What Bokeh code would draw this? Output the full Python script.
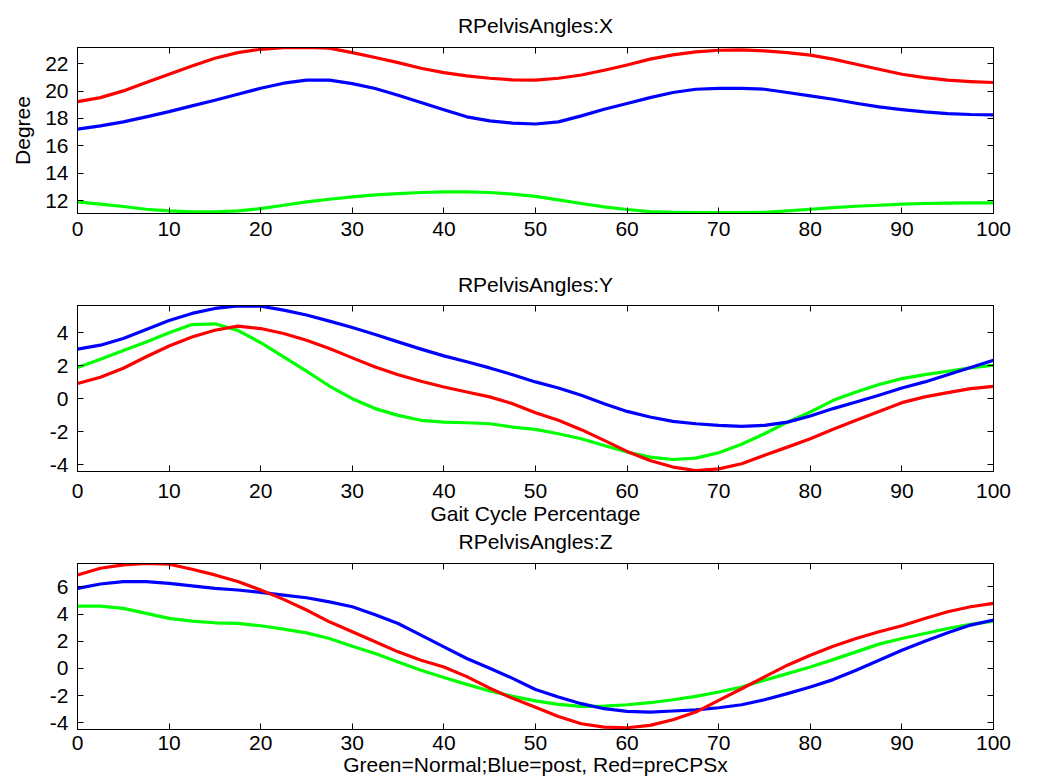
from bokeh.plotting import figure
from bokeh.layouts import column
from bokeh.models import Range1d, FixedTicker, LinearAxis, Title
from bokeh.embed import file_html
from bokeh.resources import INLINE

FONT = "Liberation Sans"

# Gait cycle percentage samples (read every 2.5 %)
gait_pct = [0, 2.5, 5, 7.5, 10, 12.5, 15, 17.5, 20, 22.5, 25, 27.5, 30, 32.5, 35, 37.5,
            40, 42.5, 45, 47.5, 50, 52.5, 55, 57.5, 60, 62.5, 65, 67.5, 70, 72.5, 75,
            77.5, 80, 82.5, 85, 87.5, 90, 92.5, 95, 97.5, 100]
x_ticks = [0, 10, 20, 30, 40, 50, 60, 70, 80, 90, 100]

# RPelvisAngles:X
x_red = [19.23, 19.52, 20.01, 20.62, 21.22, 21.83, 22.39, 22.8, 23.04, 23.15, 23.17,
         23.12, 22.8, 22.44, 22.07, 21.66, 21.34, 21.1, 20.93, 20.81, 20.79, 20.93,
         21.17, 21.51, 21.9, 22.32, 22.63, 22.85, 22.97, 22.99, 22.92, 22.8, 22.61,
         22.32, 21.95, 21.59, 21.22, 20.98, 20.79, 20.69, 20.62]
x_blue = [17.22, 17.46, 17.75, 18.12, 18.5, 18.92, 19.33, 19.77, 20.2, 20.57, 20.79,
          20.79, 20.54, 20.18, 19.69, 19.16, 18.63, 18.12, 17.83, 17.66, 17.6, 17.75,
          18.19, 18.67, 19.09, 19.52, 19.89, 20.13, 20.2, 20.2, 20.13, 19.89, 19.65,
          19.4, 19.11, 18.84, 18.65, 18.48, 18.36, 18.29, 18.26]
x_green = [11.93, 11.76, 11.59, 11.39, 11.27, 11.2, 11.2, 11.27, 11.44, 11.68, 11.93,
           12.12, 12.29, 12.44, 12.53, 12.61, 12.66, 12.66, 12.61, 12.49, 12.33, 12.07,
           11.81, 11.56, 11.37, 11.22, 11.17, 11.15, 11.15, 11.15, 11.17, 11.27, 11.39,
           11.51, 11.61, 11.68, 11.76, 11.81, 11.83, 11.85, 11.85]
x_yticks = [12, 14, 16, 18, 20, 22]

# RPelvisAngles:Y
y_red = [0.92, 1.3, 1.85, 2.55, 3.2, 3.75, 4.16, 4.41, 4.26, 3.96, 3.55, 3.05, 2.48,
         1.93, 1.46, 1.06, 0.71, 0.41, 0.11, -0.3, -0.85, -1.31, -1.88, -2.53, -3.2,
         -3.75, -4.15, -4.36, -4.26, -3.95, -3.44, -2.94, -2.43, -1.86, -1.31, -0.77,
         -0.24, 0.11, 0.37, 0.61, 0.75]
y_blue = [3.01, 3.25, 3.66, 4.2, 4.75, 5.18, 5.48, 5.64, 5.62, 5.38, 5.08, 4.71, 4.32,
          3.9, 3.45, 3.01, 2.6, 2.24, 1.87, 1.46, 1.02, 0.65, 0.21, -0.3, -0.77, -1.11,
          -1.38, -1.52, -1.62, -1.68, -1.62, -1.42, -1.05, -0.6, -0.2, 0.21, 0.65, 1.02,
          1.46, 1.89, 2.34]
y_green = [1.89, 2.4, 2.92, 3.45, 4.0, 4.5, 4.55, 4.15, 3.4, 2.54, 1.67, 0.77, 0.0,
           -0.6, -1.01, -1.31, -1.42, -1.46, -1.52, -1.72, -1.86, -2.13, -2.43, -2.84,
           -3.24, -3.55, -3.69, -3.61, -3.28, -2.77, -2.13, -1.42, -0.81, -0.1, 0.41,
           0.86, 1.22, 1.46, 1.67, 1.87, 2.03]
y_yticks = [-4, -2, 0, 2, 4]

# RPelvisAngles:Z
z_red = [6.88, 7.37, 7.62, 7.72, 7.67, 7.3, 6.88, 6.39, 5.77, 5.08, 4.3, 3.43, 2.7,
         1.96, 1.22, 0.61, 0.11, -0.6, -1.45, -2.2, -2.85, -3.53, -4.07, -4.31, -4.36,
         -4.19, -3.77, -3.21, -2.35, -1.49, -0.62, 0.24, 0.97, 1.64, 2.2, 2.7, 3.14,
         3.68, 4.17, 4.54, 4.79]
z_blue = [5.89, 6.21, 6.39, 6.39, 6.26, 6.07, 5.89, 5.77, 5.6, 5.4, 5.2, 4.9, 4.54,
          3.95, 3.31, 2.45, 1.59, 0.73, 0.01, -0.73, -1.55, -2.1, -2.59, -2.96, -3.16,
          -3.21, -3.13, -3.04, -2.89, -2.67, -2.3, -1.85, -1.36, -0.82, -0.13, 0.61,
          1.34, 2.0, 2.62, 3.19, 3.56]
z_green = [4.59, 4.59, 4.42, 4.05, 3.68, 3.48, 3.36, 3.31, 3.14, 2.89, 2.62, 2.2, 1.64,
           1.1, 0.48, -0.13, -0.67, -1.17, -1.66, -2.05, -2.38, -2.64, -2.79, -2.77,
           -2.67, -2.52, -2.3, -2.05, -1.73, -1.36, -0.87, -0.38, 0.11, 0.65, 1.22,
           1.79, 2.2, 2.57, 2.94, 3.24, 3.48]
z_yticks = [-4, -2, 0, 2, 4, 6]

RED, BLUE, GREEN = "#ff0000", "#0000ff", "#00ff00"


def style_title(t, standoff):
    t.align = "center"
    t.text_font = FONT
    t.text_font_size = "21px"
    t.text_font_style = "normal"
    t.text_color = "black"
    t.standoff = standoff


def make_panel(title, yrange, yticks, series, height, b_top, b_bottom,
               xlabel=None, ylabel=None, x_standoff=8, xl_standoff=1, t_standoff=20):
    p = figure(width=1030, height=height, output_backend="svg", toolbar_location=None,
               x_range=Range1d(0, 100), y_range=Range1d(*yrange),
               min_border_left=77, min_border_right=37,
               min_border_top=b_top, min_border_bottom=b_bottom)
    if title:
        p.title.text = title
        style_title(p.title, t_standoff)
    p.grid.visible = False
    p.outline_line_color = "black"
    p.outline_line_width = 1
    p.background_fill_color = "white"
    p.border_fill_color = "white"

    for ax in (p.xaxis[0], p.yaxis[0]):
        ax.major_tick_in = 6
        ax.major_tick_out = 0
        ax.minor_tick_line_color = None
        ax.axis_line_color = "black"
        ax.major_tick_line_color = "black"
        ax.major_label_text_font = FONT
        ax.major_label_text_font_size = "21px"
        ax.major_label_text_color = "black"
        ax.axis_label_text_font = FONT
        ax.axis_label_text_font_size = "21px"
        ax.axis_label_text_font_style = "normal"
        ax.axis_label_text_color = "black"
    p.xaxis[0].ticker = FixedTicker(ticks=x_ticks)
    p.yaxis[0].ticker = FixedTicker(ticks=yticks)
    p.yaxis[0].major_label_overrides = {t: (str(t) if t >= 0 else "-" + str(-t)) for t in yticks}
    p.xaxis[0].major_label_standoff = x_standoff
    p.yaxis[0].major_label_standoff = 9
    if xlabel:
        p.xaxis[0].axis_label = xlabel
        p.xaxis[0].axis_label_standoff = xl_standoff
    if ylabel:
        p.yaxis[0].axis_label = ylabel
        p.yaxis[0].axis_label_standoff = 8

    # mirrored ticks on top and right (box style), without labels
    top = LinearAxis(ticker=FixedTicker(ticks=x_ticks), major_tick_in=6, major_tick_out=0,
                     minor_tick_line_color=None, major_label_standoff=0,
                     major_label_overrides={t: "" for t in x_ticks},
                     axis_line_color="black")
    right = LinearAxis(ticker=FixedTicker(ticks=yticks), major_tick_in=6, major_tick_out=0,
                       minor_tick_line_color=None, major_label_standoff=0,
                       major_label_overrides={t: "" for t in yticks},
                       axis_line_color="black")
    p.add_layout(top, "above")
    p.add_layout(right, "right")

    for ys, col in series:
        p.line(gait_pct, ys, line_color=col, line_width=3.2, line_join="round")
    return p


p1 = make_panel("RPelvisAngles:X", (11.08, 23.17), x_yticks,
                [(x_green, GREEN), (x_blue, BLUE), (x_red, RED)],
                height=258, b_top=47, b_bottom=45, ylabel="Degree",
                x_standoff=8, t_standoff=21)
p2 = make_panel("RPelvisAngles:Y", (-4.42, 5.66), y_yticks,
                [(y_green, GREEN), (y_blue, BLUE), (y_red, RED)],
                height=300, b_top=47, b_bottom=87, xlabel="Gait Cycle Percentage",
                x_standoff=12, xl_standoff=1, t_standoff=20)
# heading of the third panel sits directly under the second panel's axis label
z_title = Title(text="RPelvisAngles:Z")
style_title(z_title, 0)
p2.add_layout(z_title, "below")

p3 = make_panel(None, (-4.49, 7.72), z_yticks,
                [(z_green, GREEN), (z_blue, BLUE), (z_red, RED)],
                height=224, b_top=5, b_bottom=53,
                xlabel="Green=Normal;Blue=post, Red=preCPSx", x_standoff=6, xl_standoff=0)

layout = column(p1, p2, p3, spacing=0)
open("out.html", "w").write(file_html(layout, INLINE))
